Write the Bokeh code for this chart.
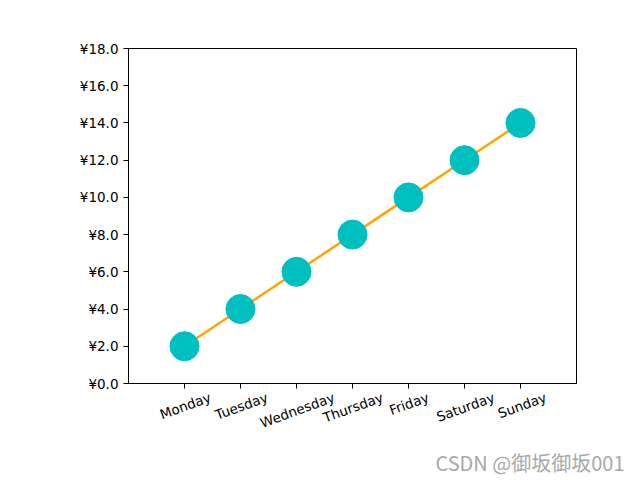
import math
from bokeh.plotting import figure
from bokeh.models import Range1d, FixedTicker, PrintfTickFormatter, Title, LinearAxis, CustomJSTickFormatter
from bokeh.embed import file_html
from bokeh.resources import INLINE

days = ["Monday", "Tuesday", "Wednesday", "Thursday", "Friday", "Saturday", "Sunday"]
prices = [2, 4, 6, 8, 10, 12, 14]
y_ticks = [0, 2, 4, 6, 8, 10, 12, 14, 16, 18]
# approximate rendered label widths (px) used to centre the rotated labels on their ticks
label_widths = [55, 57, 80, 64, 42, 63, 54]

xs = list(range(len(days)))
px_per_unit = 56.0
angle = math.radians(20)
label_pos = [i + (w / 2.0) * math.cos(angle) / px_per_unit for i, w in zip(xs, label_widths)]

p = figure(width=640, height=480, output_backend="svg", toolbar_location=None,
           x_range=Range1d(-1, len(days)), y_range=Range1d(0, 18),
           min_border_left=128, min_border_right=64, min_border_top=48, min_border_bottom=96)
p.background_fill_color = "white"
p.border_fill_color = "white"
p.outline_line_color = "black"
p.outline_line_width = 1
p.grid.visible = False

p.line(xs, prices, line_color="orange", line_width=2.5)
p.scatter(xs, prices, size=29, fill_color="#00BFBF", line_color="#00BFBF")

for ax in (p.xaxis[0], p.yaxis[0]):
    ax.axis_line_color = "black"
    ax.major_tick_line_color = "black"
    ax.major_tick_out = 5
    ax.major_tick_in = 0
    ax.minor_tick_line_color = None
    ax.major_label_text_font = "DejaVu Sans"
    ax.major_label_text_font_size = "13.5px"
    ax.major_label_text_color = "black"

p.xaxis.ticker = FixedTicker(ticks=xs)
p.xaxis.major_label_overrides = {i: "" for i in xs}
p.xaxis.major_label_standoff = 0

lab_axis = LinearAxis(ticker=FixedTicker(ticks=label_pos),
                      formatter=CustomJSTickFormatter(args=dict(days=days),
                                                      code="return days[Math.floor(tick)];"),
                      axis_line_color=None, major_tick_line_color=None, minor_tick_line_color=None,
                      major_label_orientation=angle, major_label_standoff=2,
                      major_label_text_font="DejaVu Sans", major_label_text_font_size="13.5px",
                      major_label_text_color="black")
p.add_layout(lab_axis, "below")

p.yaxis.ticker = FixedTicker(ticks=y_ticks)
p.yaxis.formatter = PrintfTickFormatter(format="¥%.1f")

wm = Title(text="CSDN @御坂御坂001", align="right", offset=-48, standoff=8,
           text_font="Noto Sans CJK SC", text_font_size="20px", text_color="#A8A8A8",
           text_font_style="normal")
p.add_layout(wm, "below")

open("out.html", "w").write(file_html(p, INLINE))
